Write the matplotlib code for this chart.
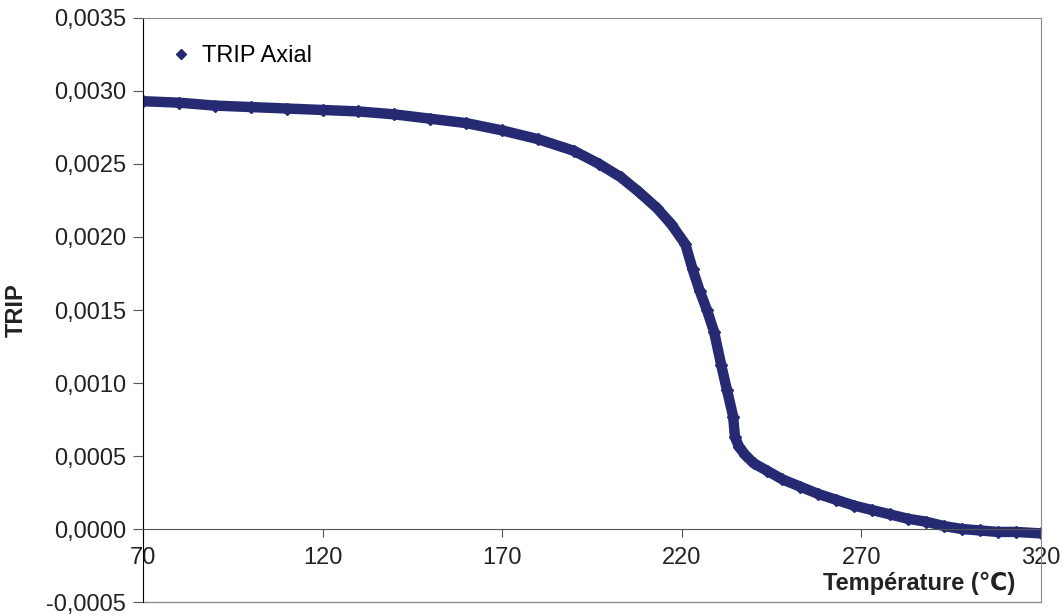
import numpy as np
import matplotlib
matplotlib.use("Agg")
import matplotlib.pyplot as plt
from matplotlib.lines import Line2D
from matplotlib.ticker import FuncFormatter

plt.rcParams['font.family'] = ['Liberation Sans', 'DejaVu Sans']

# values
temp = [70, 80, 90, 100, 110, 120, 130, 140, 150, 160, 170, 180, 190, 197, 203, 208, 213,
        217, 221, 223, 225, 227, 229, 231, 232.6, 234.3, 234.8, 236, 237.6, 240, 243.7,
        248, 253, 258, 263, 268, 273, 278, 283, 288, 293, 298, 303, 308, 313, 320]
trip = [0.00293, 0.00292, 0.00290, 0.00289, 0.00288, 0.00287, 0.00286, 0.00284, 0.00281, 0.00278,
        0.00273, 0.00267, 0.00259, 0.00250, 0.00241, 0.00231, 0.00220, 0.00209, 0.00195, 0.00178,
        0.00163, 0.00150, 0.00135, 0.00112, 0.00095, 0.00077, 0.00063, 0.00056, 0.00051, 0.00045,
        0.00040, 0.00034, 0.00029, 0.00024, 0.00020, 0.00016, 0.00013, 0.00010, 0.00007, 0.00005,
        0.00002, 0.00000, -0.00001, -0.00002, -0.00002, -0.00003]

navy = '#262A73'
grey = '#8c8c8c'

fig = plt.figure(figsize=(10.63, 6.16), dpi=100)
ax = fig.add_axes([0.1345, 0.0227, 0.8448, 0.9481])

ax.plot(temp, trip, color=navy, lw=7.5, solid_capstyle='round', solid_joinstyle='round')
ax.plot(temp, trip, ls='none', marker='D', ms=6.5, color=navy)

ax.set_xlim(70, 320)
ax.set_ylim(-0.0005, 0.0035)
ax.set_xticks(np.arange(70, 321, 50))
ax.set_yticks(np.arange(-0.0005, 0.00351, 0.0005))
ax.yaxis.set_major_formatter(FuncFormatter(lambda v, p: ('%.4f' % v).replace('.', ',').replace('-0,0000', '0,0000')))

ax.spines['bottom'].set_position(('data', 0))
ax.spines['bottom'].set_color('#555555')
ax.spines['top'].set_color(grey)
ax.spines['right'].set_color(grey)
ax.spines['left'].set_color('black')
ax.add_line(Line2D([0, 1], [0, 0], transform=ax.transAxes, color=grey, lw=1, clip_on=False))

ax.tick_params(axis='x', direction='out', length=6, color='#555555', labelsize=17, pad=7, labelcolor='#222222')
ax.tick_params(axis='y', direction='out', length=7, color='#555555', labelsize=17, pad=5, labelcolor='#222222')

ax.set_xlabel('Température (℃)', fontsize=17, fontweight='bold', color='#222222')
ax.xaxis.set_label_coords(0.864, 0.052)
ax.set_ylabel('TRIP', fontsize=17, fontweight='bold', color='#222222')
ax.yaxis.set_label_coords(-0.128, 0.5)

leg = ax.legend([Line2D([], [], ls='none', marker='D', ms=5, color=navy)], ['TRIP Axial'],
                loc='upper left', bbox_to_anchor=(0.008, 0.99), frameon=False, fontsize=17,
                handlelength=0.8, handletextpad=0.5)

fig.savefig('out.png', dpi=100)
